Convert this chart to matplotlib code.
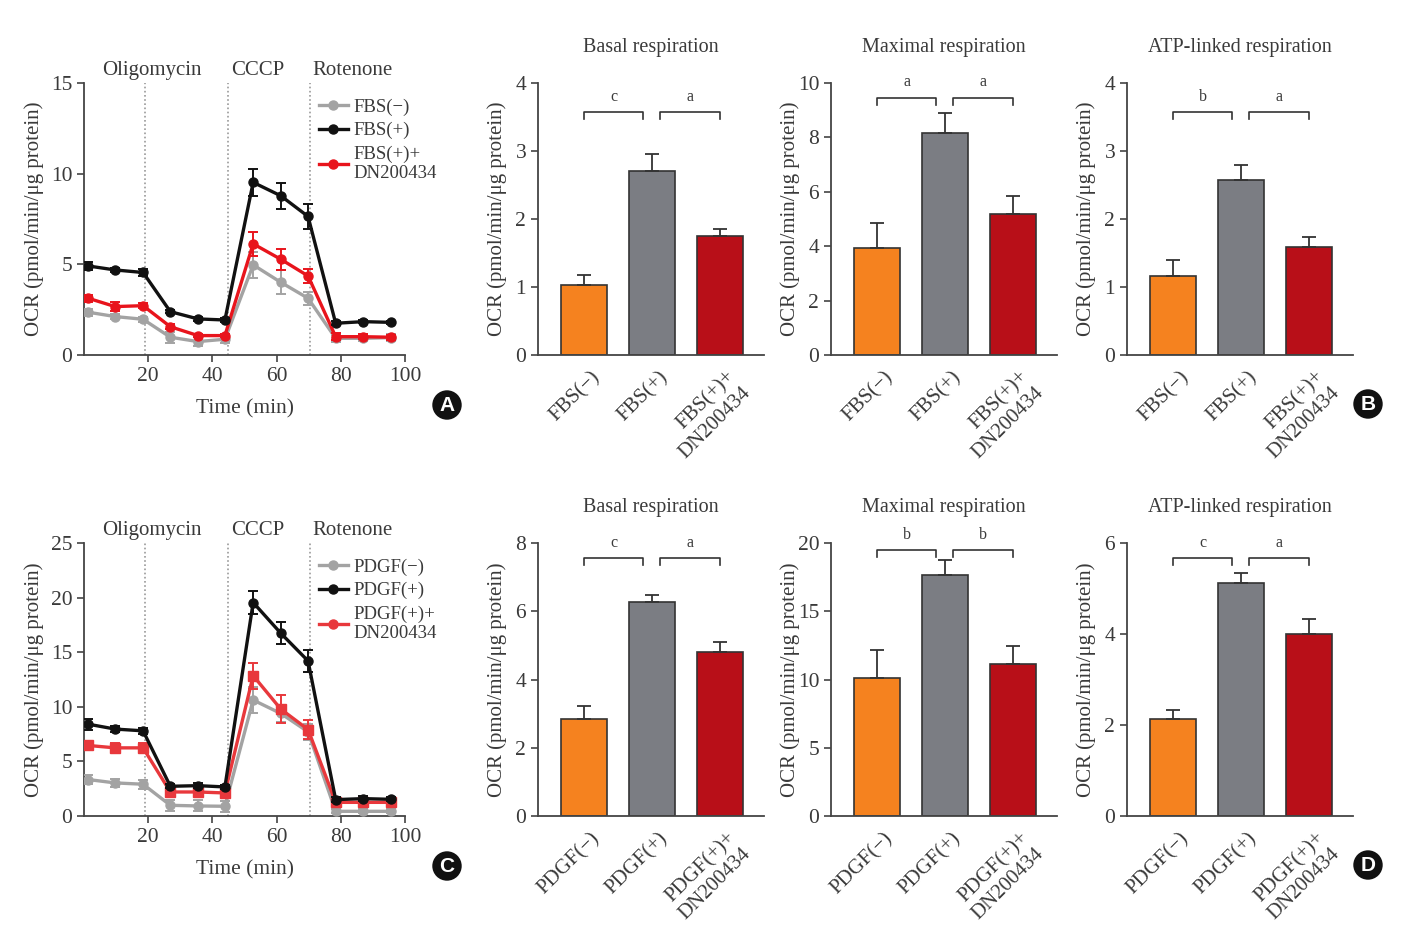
import matplotlib
matplotlib.use("Agg")
import matplotlib.pyplot as plt
from matplotlib.lines import Line2D
import numpy as np

plt.rcParams['font.family'] = ['Liberation Serif', 'DejaVu Serif']
plt.rcParams['mathtext.fontset'] = 'stix'

W, H = 1406, 938
TXT = '#3a3a3a'

# ---------------- data ----------------
time_min = [1.3, 9.7, 18.4, 26.9, 35.5, 43.9, 52.7, 61.3, 69.8, 78.4, 87.0, 95.5]
injections = ['Oligomycin', 'CCCP', 'Rotenone']
injection_times = [18.9, 44.9, 70.3]
injection_label_x = [21.2, 54.2, 83.5]

fbs_labels = ['FBS(−)', 'FBS(+)', 'FBS(+)+\nDN200434']
pdgf_labels = ['PDGF(−)', 'PDGF(+)', 'PDGF(+)+\nDN200434']

# panel A (FBS) time course
A_neg = [2.36, 2.12, 1.97, 0.98, 0.74, 0.87, 4.97, 4.01, 3.13, 0.92, 0.92, 0.96]
A_neg_err = [0.2, 0.15, 0.15, 0.3, 0.25, 0.2, 0.7, 0.65, 0.35, 0.2, 0.15, 0.2]
A_pos = [4.91, 4.69, 4.55, 2.39, 1.99, 1.93, 9.52, 8.78, 7.64, 1.75, 1.84, 1.80]
A_pos_err = [0.2, 0.1, 0.2, 0.1, 0.1, 0.1, 0.75, 0.73, 0.7, 0.1, 0.1, 0.1]
A_dn = [3.13, 2.67, 2.72, 1.56, 1.07, 1.07, 6.13, 5.28, 4.36, 1.01, 1.01, 0.98]
A_dn_err = [0.2, 0.25, 0.15, 0.15, 0.1, 0.1, 0.65, 0.57, 0.4, 0.2, 0.15, 0.15]

# panel C (PDGF) time course
C_neg = [3.34, 3.03, 2.91, 0.98, 0.92, 0.89, 10.62, 9.39, 7.71, 0.43, 0.43, 0.43]
C_neg_err = [0.4, 0.4, 0.4, 0.5, 0.5, 0.5, 1.15, 0.8, 0.75, 0.2, 0.2, 0.2]
C_pos = [8.41, 7.96, 7.80, 2.72, 2.78, 2.66, 19.55, 16.74, 14.2, 1.50, 1.59, 1.53]
C_pos_err = [0.5, 0.3, 0.3, 0.2, 0.2, 0.2, 1.07, 1.0, 1.0, 0.2, 0.2, 0.2]
C_dn = [6.46, 6.24, 6.24, 2.20, 2.20, 2.11, 12.85, 9.79, 7.92, 1.25, 1.25, 1.25]
C_dn_err = [0.4, 0.4, 0.4, 0.3, 0.3, 0.3, 1.2, 1.25, 0.9, 0.2, 0.2, 0.2]

# bar panels
bar_titles = ['Basal respiration', 'Maximal respiration', 'ATP-linked respiration']
B_means = [[1.03, 2.71, 1.75], [3.92, 8.16, 5.17], [1.16, 2.57, 1.59]]
B_errs = [[0.145, 0.24, 0.11], [0.95, 0.74, 0.67], [0.23, 0.23, 0.15]]
B_ymax = [4, 10, 4]
B_ystep = [1, 2, 1]
B_sig = [['c', 'a'], ['a', 'a'], ['b', 'a']]
B_bracket_y = [3.57, 9.46, 3.57]

D_means = [[2.84, 6.26, 4.80], [10.13, 17.63, 11.11], [2.14, 5.11, 3.99]]
D_errs = [[0.38, 0.21, 0.30], [2.04, 1.15, 1.35], [0.20, 0.23, 0.33]]
D_ymax = [8, 20, 6]
D_ystep = [2, 5, 2]
D_sig = [['c', 'a'], ['b', 'b'], ['c', 'a']]
D_bracket_y = [7.56, 19.46, 5.67]

bar_colors = ['#f5821f', '#7b7d83', '#b80f18']
ylab = 'OCR (pmol/min/μg protein)'

# ---------------- figure ----------------
fig = plt.figure(figsize=(W / 100, H / 100), dpi=100)


def ax_px(l, t, r, b):
    return fig.add_axes([l / W, 1 - b / H, (r - l) / W, (b - t) / H])


def style(ax):
    for s in ['top', 'right']:
        ax.spines[s].set_visible(False)
    for s in ['left', 'bottom']:
        ax.spines[s].set_color('#444444')
        ax.spines[s].set_linewidth(1.3)
    ax.tick_params(direction='out', length=5, width=1.2, colors='#444444',
                   labelcolor=TXT, labelsize=15.5)


def line_panel(ax, ymax, ystep, series, legend_labels, red_marker):
    style(ax)
    for t in injection_times:
        ax.axvline(t, color='#9a9a9a', ls=(0, (1, 1.5)), lw=1.2, zorder=1)
    for name, xl in zip(injections, injection_label_x):
        ax.text(xl, 1.045, name, transform=ax.get_xaxis_transform(),
                ha='center', va='center', fontsize=15, color=TXT)
    cols = ['#a3a3a3', '#111111', '#e8141c' if red_marker == 'o' else '#e8383c']
    mks = ['o', 'o', red_marker]
    zs = [3, 5, 4]
    handles = []
    for (y, e), c, m, lab, z in zip(series, cols, mks, legend_labels, zs):
        ax.errorbar(time_min, y, yerr=e, fmt='-' + m, color=c, lw=2.4,
                    ms=6.5, capsize=3.5, elinewidth=1.4, capthick=1.4, zorder=z)
        handles.append(Line2D([], [], color=c, lw=2.4, marker='o', ms=6.5, label=lab))
    ax.set_xlim(0, 100)
    ax.set_ylim(0, ymax)
    ax.set_xticks([20, 40, 60, 80, 100])
    ax.set_yticks(np.arange(0, ymax + 0.1, ystep))
    ax.set_xlabel('Time (min)', fontsize=15.5, color=TXT, labelpad=10)
    ax.set_ylabel(ylab, fontsize=15, color=TXT)
    ax.yaxis.set_label_coords(-0.125, 0.5)
    leg = ax.legend(handles=handles, loc='upper left', bbox_to_anchor=(0.71, 0.97),
                    frameon=False, fontsize=13.5, handlelength=1.5,
                    handletextpad=0.3, labelspacing=0.32, borderaxespad=0)
    for t in leg.get_texts():
        t.set_color(TXT)


def bar_panel(ax, means, errs, ymax, ystep, title, labels, sig, by):
    style(ax)
    x = np.arange(3)
    ax.bar(x, means, width=0.676, color=bar_colors, edgecolor='#333333',
           linewidth=1.2, zorder=2)
    ax.errorbar(x, means, yerr=[np.zeros(3), errs], fmt='none', ecolor='#333333',
                elinewidth=1.3, capsize=5, capthick=1.3, zorder=3)
    ax.set_xlim(-0.68, 2.65)
    ax.set_ylim(0, ymax)
    ax.set_yticks(np.arange(0, ymax + 0.01, ystep))
    # label anchors sit slightly right of the bar centres (no visible tick marks)
    ax.set_xticks(x + 0.09)
    ax.set_xticklabels(labels, rotation=45, ha='right', va='top',
                       rotation_mode='anchor', fontsize=15, color=TXT)
    ax.tick_params(axis='x', length=0, pad=9)
    ax.set_ylabel(ylab, fontsize=15, color=TXT)
    ax.yaxis.set_label_coords(-0.137, 0.5)
    ax.text(0.5, 1.13, title, transform=ax.transAxes, ha='center', va='center',
            fontsize=14.5, color=TXT)
    dy = 0.026 * ymax
    for (x0, x1), s in zip([(0, 0.87), (1.12, 2.0)], sig):
        ax.plot([x0, x0, x1, x1], [by - dy, by, by, by - dy], color='#333333',
                lw=1.2, clip_on=False)
        ax.annotate(s, ((x0 + x1) / 2, by), xytext=(0, 11), textcoords='offset points',
                    ha='center', va='center', fontsize=11.5, color=TXT,
                    annotation_clip=False)


axA = ax_px(84, 83, 405, 355)
line_panel(axA, 15, 5, [(A_neg, A_neg_err), (A_pos, A_pos_err), (A_dn, A_dn_err)],
           ['FBS(−)', 'FBS(+)', 'FBS(+)+\nDN200434'], 'o')
axC = ax_px(84, 543, 405, 816)
line_panel(axC, 25, 5, [(C_neg, C_neg_err), (C_pos, C_pos_err), (C_dn, C_dn_err)],
           ['PDGF(−)', 'PDGF(+)', 'PDGF(+)+\nDN200434'], 's')

lefts = [538, 831, 1127]
for i in range(3):
    ax = ax_px(lefts[i], 83, lefts[i] + 226, 355)
    bar_panel(ax, B_means[i], B_errs[i], B_ymax[i], B_ystep[i], bar_titles[i],
              fbs_labels, B_sig[i], B_bracket_y[i])
    ax = ax_px(lefts[i], 543, lefts[i] + 226, 816)
    bar_panel(ax, D_means[i], D_errs[i], D_ymax[i], D_ystep[i], bar_titles[i],
              pdgf_labels, D_sig[i], D_bracket_y[i])

for lab, (px, py) in zip(['A', 'B', 'C', 'D'],
                         [(447, 405), (1368, 404), (447, 866), (1368, 865)]):
    fig.text(px / W, 1 - py / H, lab, ha='center', va='center', fontsize=15,
             fontweight='bold', color='white', family='Liberation Sans',
             bbox=dict(boxstyle='circle,pad=0.25', fc='#111111', ec='none'))

fig.savefig('out.png', dpi=100)
